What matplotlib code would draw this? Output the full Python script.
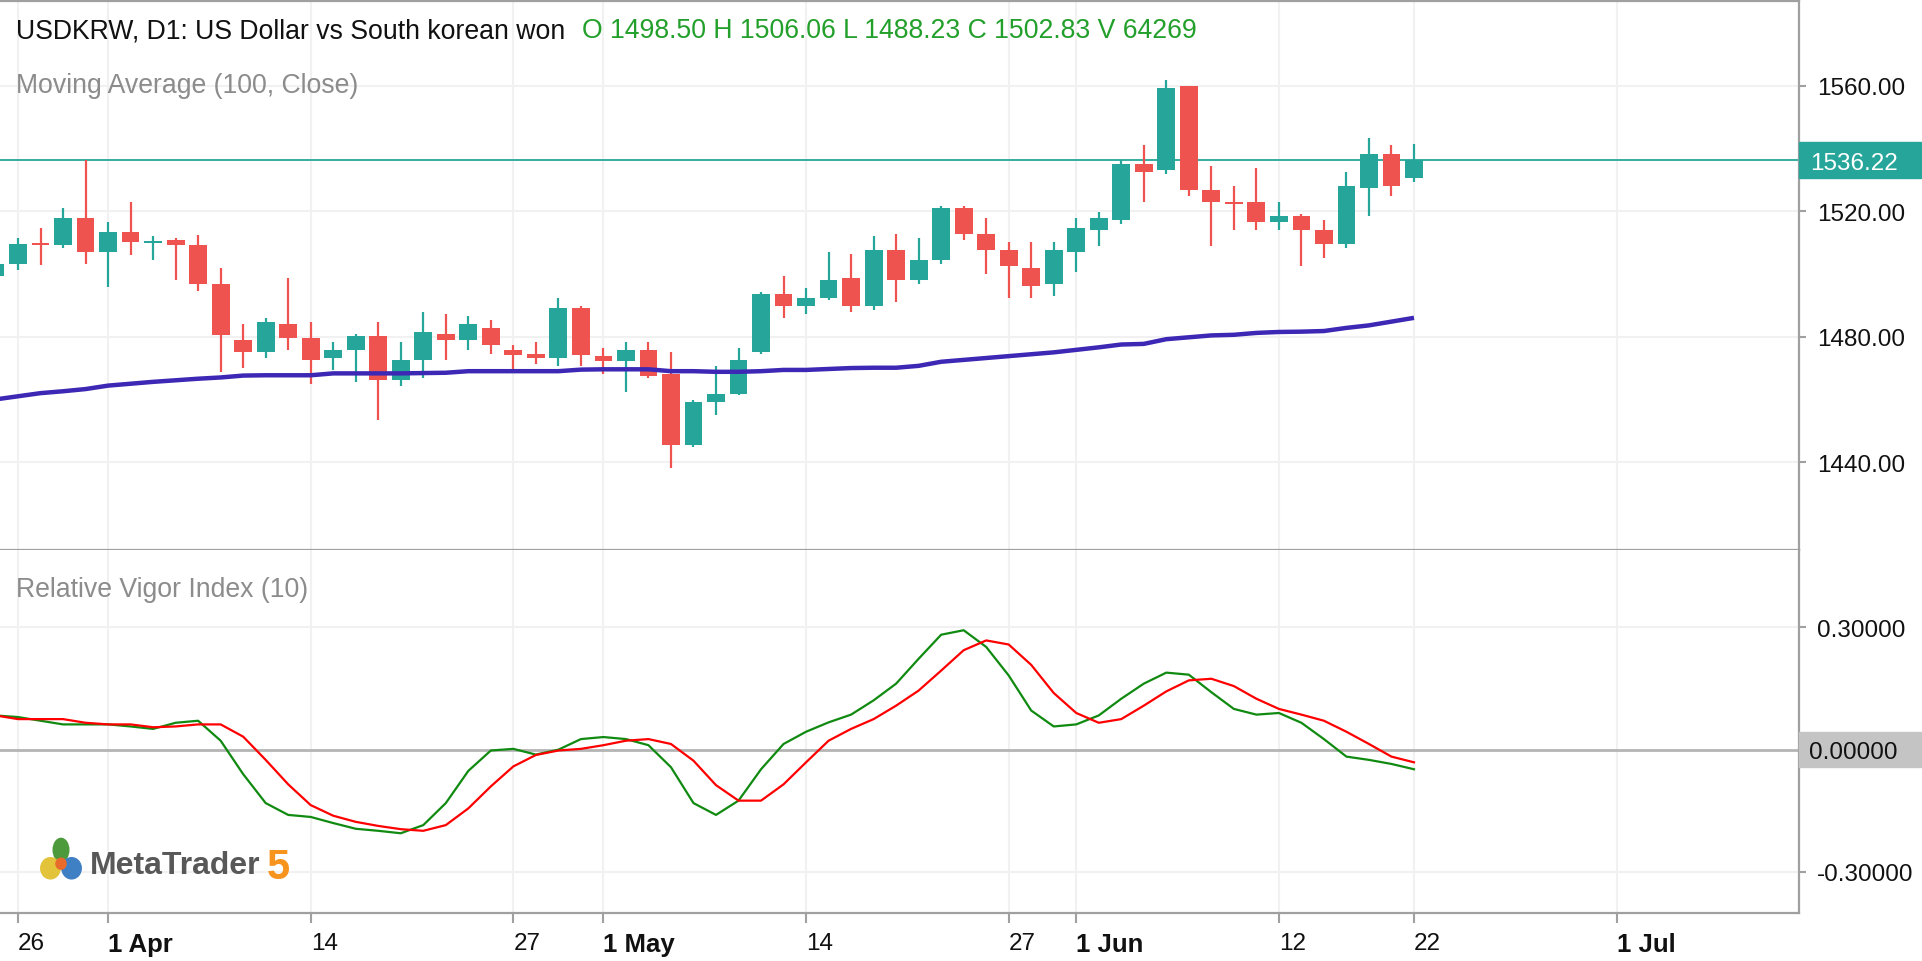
import numpy as np
import pandas as pd
import matplotlib
matplotlib.use("Agg")
import matplotlib.pyplot as plt
import matplotlib.transforms as mtransforms
from matplotlib import font_manager
from matplotlib.patches import Rectangle, Ellipse

# --- data (daily bars, USDKRW) ---
opens = [1499.5, 1503.1, 1509.6, 1509.1, 1517.7, 1507.1, 1513.4, 1510.0, 1510.8, 1509.1,
         1496.9, 1478.9, 1475.2, 1484.0, 1479.6, 1473.3, 1475.8, 1480.3, 1466.1, 1472.6,
         1480.8, 1478.9, 1482.8, 1475.7, 1474.4, 1473.3, 1489.1, 1473.9, 1472.1, 1475.7,
         1468.2, 1445.4, 1459.3, 1461.8, 1475.2, 1493.7, 1489.9, 1492.3, 1498.7, 1489.9,
         1507.6, 1498.0, 1504.4, 1521.0, 1512.7, 1507.6, 1501.9, 1496.8, 1507.0, 1514.1,
         1517.2, 1535.0, 1533.1, 1560.0, 1526.7, 1523.0, 1523.0, 1516.6, 1518.5, 1514.0,
         1509.5, 1527.4, 1538.2, 1530.6]
highs = [1505.0, 1511.5, 1514.5, 1521.0, 1536.4, 1516.5, 1522.8, 1512.0, 1511.5, 1512.3,
         1501.8, 1484.1, 1486.1, 1498.6, 1484.6, 1478.3, 1480.9, 1484.6, 1478.3, 1487.8,
         1487.2, 1486.6, 1485.3, 1477.2, 1478.3, 1492.3, 1489.8, 1476.4, 1478.3, 1478.3,
         1475.1, 1459.9, 1470.7, 1476.4, 1494.3, 1499.4, 1495.5, 1507.0, 1506.3, 1512.1,
         1512.7, 1511.5, 1521.7, 1521.7, 1517.8, 1510.2, 1510.2, 1510.2, 1517.8, 1519.8,
         1536.3, 1541.0, 1561.8, 1560.0, 1534.5, 1528.1, 1533.8, 1523.0, 1519.0, 1517.2,
         1532.5, 1543.3, 1541.0, 1541.4]
lows = [1498.0, 1501.2, 1502.8, 1508.3, 1503.1, 1495.7, 1506.0, 1504.5, 1498.0, 1494.4,
        1468.7, 1470.1, 1473.3, 1475.8, 1465.0, 1469.3, 1465.6, 1453.4, 1464.4, 1466.9,
        1472.6, 1475.8, 1474.4, 1469.3, 1471.4, 1470.8, 1470.8, 1468.2, 1462.5, 1466.9,
        1438.2, 1444.7, 1455.0, 1461.5, 1474.4, 1486.1, 1487.2, 1491.6, 1488.0, 1488.6,
        1491.1, 1496.8, 1503.1, 1510.8, 1500.0, 1492.3, 1492.3, 1493.0, 1500.6, 1509.0,
        1515.9, 1523.0, 1531.8, 1524.9, 1509.0, 1514.0, 1514.0, 1514.0, 1502.6, 1505.1,
        1508.3, 1518.5, 1524.9, 1529.3]
closes = [1503.1, 1509.4, 1509.2, 1517.7, 1507.1, 1513.4, 1510.2, 1510.6, 1509.1, 1496.9,
          1480.4, 1475.2, 1484.6, 1479.7, 1472.6, 1475.6, 1480.3, 1466.1, 1472.5, 1481.5,
          1478.9, 1484.0, 1477.2, 1474.0, 1473.3, 1489.1, 1474.0, 1472.1, 1475.7, 1467.6,
          1445.4, 1459.3, 1461.8, 1472.6, 1493.7, 1489.9, 1492.3, 1498.0, 1489.9, 1507.6,
          1498.0, 1504.4, 1521.0, 1512.7, 1507.6, 1502.6, 1496.2, 1507.6, 1514.6, 1517.8,
          1535.0, 1532.5, 1559.3, 1526.7, 1523.0, 1522.4, 1516.6, 1518.5, 1514.0, 1509.5,
          1528.1, 1538.2, 1528.1, 1536.22]
ma100 = [1460.0, 1461.0, 1462.0, 1462.6, 1463.3, 1464.4, 1465.0, 1465.6, 1466.1, 1466.6,
         1467.0, 1467.6, 1467.7, 1467.7, 1467.7, 1468.3, 1468.3, 1468.3, 1468.3, 1468.4,
         1468.5, 1469.0, 1469.0, 1469.0, 1469.0, 1469.0, 1469.5, 1469.6, 1469.6, 1469.6,
         1469.0, 1469.0, 1468.8, 1468.8, 1469.0, 1469.4, 1469.4, 1469.7, 1470.0, 1470.1,
         1470.1, 1470.7, 1472.0, 1472.6, 1473.2, 1473.8, 1474.4, 1475.0, 1475.8, 1476.6,
         1477.5, 1477.7, 1479.2, 1479.8, 1480.4, 1480.6, 1481.2, 1481.5, 1481.6, 1481.8,
         1482.8, 1483.6, 1484.8, 1486.0]
rvi_main = [0.084, 0.080, 0.071, 0.062, 0.062, 0.062, 0.057, 0.051, 0.066, 0.071,
            0.022, -0.060, -0.131, -0.160, -0.165, -0.180, -0.194, -0.199, -0.205, -0.185,
            -0.131, -0.052, -0.002, 0.002, -0.012, 0.000, 0.026, 0.031, 0.026, 0.011,
            -0.043, -0.131, -0.160, -0.125, -0.048, 0.014, 0.044, 0.067, 0.086, 0.121,
            0.162, 0.223, 0.282, 0.293, 0.252, 0.182, 0.096, 0.057, 0.062, 0.084,
            0.125, 0.162, 0.189, 0.184, 0.141, 0.100, 0.086, 0.090, 0.066, 0.026,
            -0.017, -0.025, -0.035, -0.048]
rvi_signal = [0.084, 0.075, 0.075, 0.075, 0.066, 0.062, 0.062, 0.055, 0.057, 0.062,
              0.062, 0.032, -0.025, -0.085, -0.136, -0.162, -0.177, -0.187, -0.195, -0.199,
              -0.185, -0.144, -0.090, -0.041, -0.013, -0.002, 0.002, 0.011, 0.022, 0.026,
              0.014, -0.027, -0.087, -0.125, -0.125, -0.085, -0.031, 0.022, 0.051, 0.075,
              0.108, 0.145, 0.194, 0.244, 0.268, 0.258, 0.208, 0.139, 0.090, 0.066,
              0.075, 0.108, 0.143, 0.170, 0.174, 0.156, 0.125, 0.100, 0.086, 0.071,
              0.044, 0.014, -0.017, -0.031]
dates = pd.bdate_range("2026-03-25", periods=len(closes))
tick_dates = ["2026-03-26", "2026-04-01", "2026-04-14", "2026-04-27", "2026-05-01",
              "2026-05-14", "2026-05-27", "2026-06-01", "2026-06-12", "2026-06-22", "2026-07-01"]
tick_text = ["26", "1 Apr", "14", "27", "1 May", "14", "27", "1 Jun", "12", "22", "1 Jul"]
price_ticks = [1440, 1480, 1520, 1560]
rvi_ticks = [-0.3, 0.3]
last_price = 1536.22
title = "USDKRW, D1: US Dollar vs South korean won"
ohlc_text = "O 1498.50 H 1506.06 L 1488.23 C 1502.83 V 64269"

names = {f.name for f in font_manager.fontManager.ttflist}
fam = "Liberation Sans" if "Liberation Sans" in names else "DejaVu Sans"
plt.rcParams["font.family"] = [fam, "DejaVu Sans"]

W, H = 1922, 962
UP, DOWN = "#26a69a", "#ef5350"
SPINE = "#a0a0a0"
GRID = "#f1f1f1"

fig = plt.figure(figsize=(W / 100, H / 100), dpi=100)
ax = fig.add_axes([0, 1 - 551 / H, 1799 / W, 549 / H])
ax2 = fig.add_axes([0, 1 - 914 / H, 1799 / W, 363 / H], sharex=ax)

o = np.array(opens); h = np.array(highs); l = np.array(lows); c = np.array(closes)
x = np.arange(len(c))
col = np.where(c >= o, UP, DOWN)

# date positions: trading bars, future part one slot per calendar day
def pos(d):
    d = pd.Timestamp(d)
    if d in dates:
        return int(dates.get_loc(d))
    return len(dates) - 1 + (d - dates[-1]).days

tick_pos = [pos(d) for d in tick_dates]

# --- price panel ---
ax.vlines(x, l, h, colors=col, lw=1.6, zorder=2)
ax.bar(x, np.maximum(np.abs(c - o), 0.6), bottom=np.minimum(o, c), width=0.79,
       color=col, linewidth=0, zorder=3)
ax.plot(x, ma100, color="#3c28b4", lw=3.2, zorder=4, solid_capstyle="butt")
ax.axhline(last_price, color=UP, lw=1.3, zorder=1.5)

ax.set_xlim(0.2, 80.1)
ax.set_ylim(1412, 1587)
ax.set_yticks(price_ticks)
ax.yaxis.set_major_formatter(matplotlib.ticker.FormatStrFormatter("%.2f"))
ax.set_xticks(tick_pos)
ax.set_axisbelow(True)
ax.grid(True, color=GRID, lw=1.5)
ax.yaxis.tick_right()
ax.tick_params(axis="y", length=5, width=1.5, color=SPINE, pad=8, labelsize=17.5,
               labelcolor="#111111")
ax.tick_params(axis="x", bottom=False, labelbottom=False)
ax.spines["left"].set_visible(False)
for s in ["top", "right", "bottom"]:
    ax.spines[s].set_color(SPINE)
    ax.spines[s].set_linewidth(1.6)

tr = mtransforms.blended_transform_factory(ax.transAxes, ax.transData)
ax.add_patch(Rectangle((1.0, last_price - 5.8), 122 / 1799, 11.6, transform=tr,
                       color=UP, clip_on=False, zorder=6))
ax.text(1.0 + 11 / 1799, last_price, f"{last_price:.2f}", transform=tr, color="white",
        fontsize=17.5, va="center_baseline", ha="left", zorder=7, clip_on=False)

# --- RVI panel ---
ax2.plot(x, rvi_main, color="#108a10", lw=1.6, zorder=3)
ax2.plot(x, rvi_signal, color="#ff0000", lw=1.6, zorder=3)
ax2.axhline(0, color="#b4b4b4", lw=2.0, zorder=1.5)
ax2.set_ylim(-0.4006, 0.4898)
ax2.set_yticks(rvi_ticks)
ax2.yaxis.set_major_formatter(matplotlib.ticker.FormatStrFormatter("%.5f"))
ax2.set_axisbelow(True)
ax2.grid(True, color=GRID, lw=1.5)
ax2.yaxis.tick_right()
ax2.tick_params(axis="y", length=5, width=1.5, color=SPINE, pad=8, labelsize=17.5,
                labelcolor="#111111")
ax2.set_xticks(tick_pos)
ax2.set_xticklabels(tick_text)
ax2.tick_params(axis="x", length=7, width=1.5, color=SPINE, pad=7, labelsize=17.5,
                labelcolor="#111111")
for t, txt in zip(ax2.get_xticklabels(), tick_text):
    t.set_ha("left")
    if " " in txt:
        t.set_fontweight("bold")
        t.set_fontsize(18.5)
ax2.spines["left"].set_visible(False)
ax2.spines["top"].set_visible(False)
for s in ["right", "bottom"]:
    ax2.spines[s].set_color(SPINE)
    ax2.spines[s].set_linewidth(1.6)

tr2 = mtransforms.blended_transform_factory(ax2.transAxes, ax2.transData)
ax2.add_patch(Rectangle((1.0, -0.043), 122 / 1799, 0.086, transform=tr2,
                        color="#c4c4c4", clip_on=False, zorder=6))
ax2.text(1.0 + 10 / 1799, 0, "0.00000", transform=tr2, color="#111111",
         fontsize=17.5, va="center_baseline", ha="left", zorder=7, clip_on=False)

# --- header texts ---
fig.text(16 / W, 1 - 38 / H, title, fontsize=19.2, color="#111111", va="baseline")
fig.text(582 / W, 1 - 38 / H, ohlc_text, fontsize=19.2, color="#23a02b", va="baseline")
fig.text(16 / W, 1 - 93 / H, "Moving Average (100, Close)", fontsize=19.2,
         color="#8c8c8c", va="baseline")
fig.text(16 / W, 1 - 597 / H, "Relative Vigor Index (10)", fontsize=19.2,
         color="#8c8c8c", va="baseline")

# --- MetaTrader 5 logo ---
lg = fig.add_axes([38 / W, 1 - 884 / H, 46 / W, 46 / H])
lg.set_xlim(0, 1); lg.set_ylim(0, 1); lg.axis("off")
lg.add_patch(Ellipse((0.5, 0.72), 0.34, 0.5, color="#4d9a3c"))
lg.add_patch(Ellipse((0.27, 0.32), 0.42, 0.46, color="#e2c33a"))
lg.add_patch(Ellipse((0.73, 0.32), 0.42, 0.46, color="#3f7fc4"))
lg.add_patch(Ellipse((0.5, 0.42), 0.22, 0.24, color="#e86b2c"))
fig.text(90 / W, 1 - 874 / H, "MetaTrader", fontsize=23, fontweight="bold",
         color="#585858", va="baseline")
fig.text(267 / W, 1 - 879 / H, "5", fontsize=30, fontweight="bold",
         color="#f7941d", va="baseline")

fig.savefig("out.png", dpi=100)
